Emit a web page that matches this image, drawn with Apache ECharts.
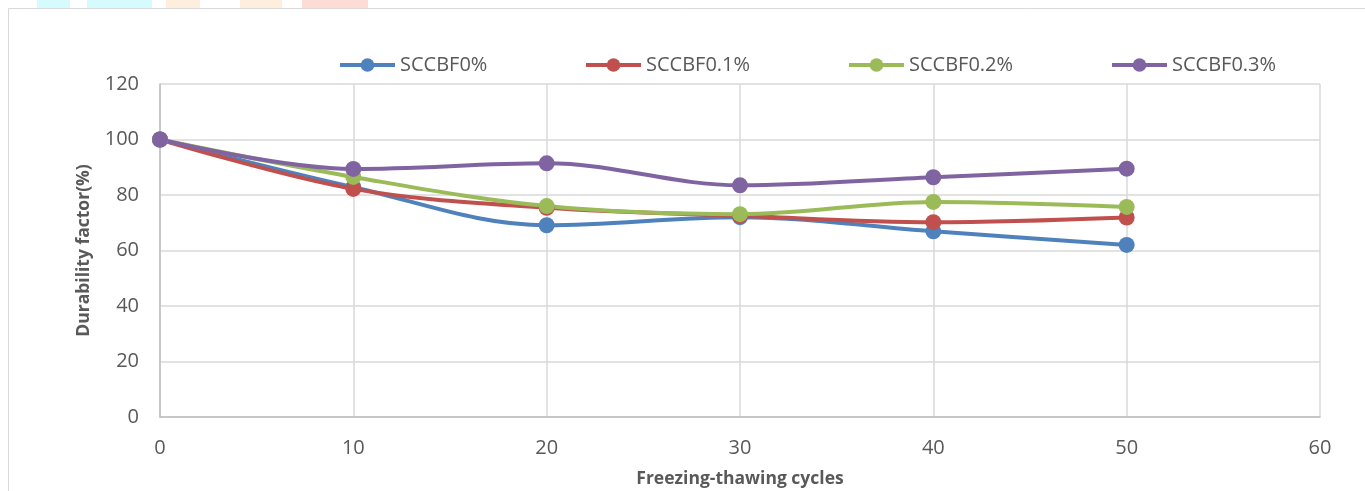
<!DOCTYPE html>
<html><head><meta charset="utf-8">
<script src="https://cdn.jsdelivr.net/npm/echarts@6/dist/echarts.min.js"></script>
<style>html,body{margin:0;padding:0;background:#fff}#c{width:1365px;height:491px}</style>
</head><body><div id="c"></div>
<script>
const cycles = [0, 10, 20, 30, 40, 50];
const seriesNames = ['SCCBF0%', 'SCCBF0.1%', 'SCCBF0.2%', 'SCCBF0.3%'];
const bf0 = [100, 82.8, 69.1, 72, 66.9, 62];
const bf01 = [100, 82.2, 75.4, 72.5, 70.2, 71.9];
const bf02 = [100, 86.5, 76, 73.1, 77.5, 75.7];
const bf03 = [100, 89.4, 91.4, 83.5, 86.4, 89.5];
const colors = ['#4f81bd', '#c0504d', '#9bbb59', '#8064a2'];
const allValues = [bf0, bf01, bf02, bf03];
const legendLeft = [333, 579, 842, 1105];

const font = '"Open Sans", sans-serif';
const chart = echarts.init(document.getElementById('c'));
chart.setOption({
  animation: false,
  backgroundColor: '#fff',
  textStyle: { fontFamily: font },
  graphic: [
    { type: 'rect', shape: { x: 37, y: 0, width: 33, height: 8 }, style: { fill: '#d5fbfd' }, silent: true },
    { type: 'rect', shape: { x: 87, y: 0, width: 65, height: 8 }, style: { fill: '#d5fbfd' }, silent: true },
    { type: 'rect', shape: { x: 166, y: 0, width: 34, height: 8 }, style: { fill: '#fdeedd' }, silent: true },
    { type: 'rect', shape: { x: 240, y: 0, width: 42, height: 8 }, style: { fill: '#fdeedd' }, silent: true },
    { type: 'rect', shape: { x: 302, y: 0, width: 66, height: 8 }, style: { fill: '#fddcd6' }, silent: true },
    { type: 'rect', shape: { x: 8.5, y: 8.5, width: 1400, height: 520 }, style: { fill: 'none', stroke: '#d9d9d9', lineWidth: 1 }, silent: true }
  ],
  legend: seriesNames.map((n, i) => ({
    data: [n], left: legendLeft[i], top: 50,
    itemWidth: 55, itemHeight: 17, itemGap: 0,
    lineStyle: { width: 4 },
    textStyle: { color: '#595959', fontSize: 20, fontFamily: font }
  })),
  grid: { left: 160, right: 45, top: 84, bottom: 74, containLabel: false, outerBoundsMode: 'none' },
  xAxis: {
    type: 'value', min: 0, max: 60, interval: 10,
    name: 'Freezing-thawing cycles', nameLocation: 'middle', nameGap: 53,
    nameTextStyle: { fontWeight: 'bold', fontSize: 17.5, color: '#595959', fontFamily: font },
    axisLine: { lineStyle: { color: '#bfbfbf', width: 1.5 } },
    axisTick: { show: false },
    axisLabel: { color: '#595959', fontSize: 20, margin: 21, fontFamily: font },
    splitLine: { show: true, lineStyle: { color: '#d9d9d9', width: 1.5 } }
  },
  yAxis: {
    type: 'value', min: 0, max: 120, interval: 20,
    name: 'Durability factor(%)', nameLocation: 'middle', nameGap: 67, nameRotate: 90,
    nameTextStyle: { fontWeight: 'bold', fontSize: 17.5, color: '#595959', fontFamily: font },
    axisLine: { show: true, lineStyle: { color: '#bfbfbf', width: 1.5 } },
    axisTick: { show: false },
    axisLabel: { color: '#595959', fontSize: 20, margin: 21, fontFamily: font },
    splitLine: { show: true, lineStyle: { color: '#d9d9d9', width: 1.5 } }
  },
  series: seriesNames.map((n, i) => ({
    name: n, type: 'line', smooth: 0.35,
    data: cycles.map((c, j) => [c, allValues[i][j]]),
    symbol: 'circle', symbolSize: 16,
    lineStyle: { color: colors[i], width: 4 },
    itemStyle: { color: colors[i] }
  }))
});
</script></body></html>
